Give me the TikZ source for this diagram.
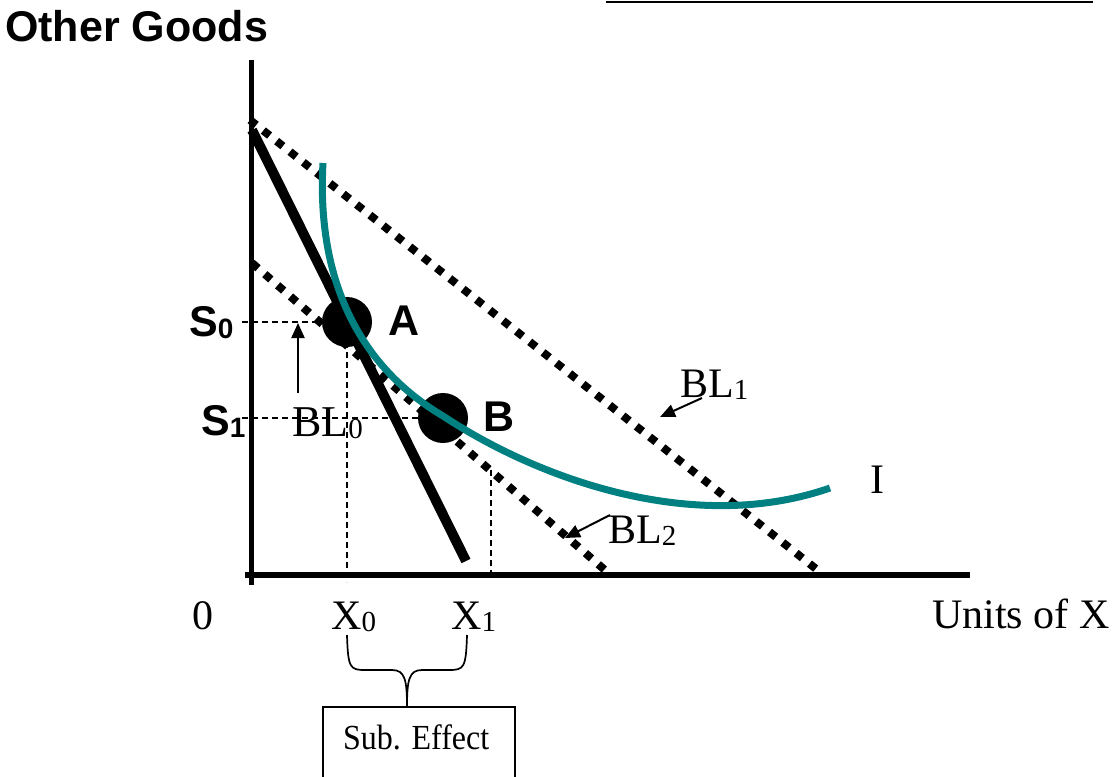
\documentclass[tikz,border=0pt]{standalone}
\usepackage{fontspec}
\setmainfont{Liberation Serif}
\newfontfamily\lsans{Liberation Sans}
\usetikzlibrary{arrows.meta}
\definecolor{icurve}{RGB}{0,128,128}
\newcommand\sbs[1]{\raisebox{-2pt}{\fontsize{29}{29}\selectfont #1}}
\newcommand\sbsb[1]{\raisebox{-2pt}{\fontsize{28}{28}\selectfont\bfseries #1}}
\begin{document}
\begin{tikzpicture}[x=1pt,y=-1pt,
  ser/.style={font=\fontsize{42}{42}\selectfont, inner sep=0pt, anchor=base west},
  bsans/.style={font=\lsans\bfseries\fontsize{43}{43}\selectfont, inner sep=0pt, anchor=base west},
  blline/.style={line width=8pt, dash pattern=on 8pt off 9pt},
  guide/.style={line width=1.3pt, dash pattern=on 6pt off 4pt},
  ptr/.style={line width=2pt, -{Triangle[length=15pt,width=13pt]}},
  dotpt/.style={circle, fill=black, minimum size=50pt, inner sep=0pt},
  thin/.style={line width=1.7pt}]
\useasboundingbox (0,0) rectangle (1112,777);
% top line
\draw[line width=2pt] (606,1.5) -- (1093,1.5);
% axes
\coordinate (ytop) at (251,60);
\coordinate (ybot) at (251,585);
\coordinate (xl) at (245,575);
\coordinate (xr) at (970,575);
% budget lines
\coordinate (bl1a) at (250,120);
\coordinate (bl1b) at (820,572);
\coordinate (bl2a) at (252,263);
\coordinate (bl2b) at (606,571);
\coordinate (bl0a) at (252,130);
\coordinate (bl0b) at (466,561);
\draw[blline] (bl1a) -- (bl1b);
\draw[blline] (bl2a) -- (bl2b);
\draw[line width=10pt] (bl0a) -- (bl0b);
% points
\node[dotpt] (A) at (347,322) {};
\node[dotpt] (B) at (443,418) {};
% guides
\coordinate (s0l) at (242,322);
\coordinate (s1l) at (242,418);
\coordinate (x0b) at (347,582);
\coordinate (x1t) at (491,470);
\coordinate (x1b) at (491,575);
\draw[guide] (s0l) -- (A.center);
\draw[guide] (s1l) -- (B.center);
\draw[guide] (A.center) -- (x0b);
\draw[guide] (x1t) -- (x1b);
\draw[line width=5pt] (ytop) -- (ybot);
\draw[line width=6pt] (xl) -- (xr);
% indifference curve
\coordinate (i0) at (323,163);
\coordinate (i1) at (443,416);
\coordinate (i2) at (830,488);
\draw[icurve, line width=7pt] (i0) .. controls (317,270) and (352,362) .. (i1)
  .. controls (540,480) and (695,535) .. (i2);
% labels
\node[bsans] (OG) at (5,41) {Other Goods};
\node[bsans] (S0) at (189,336) {S\sbsb{0}};
\node[bsans] (S1) at (201,435) {S\sbsb{1}};
\node[bsans] (LA) at (388,335) {A};
\node[bsans] (LB) at (483,431) {B};
\node[ser, font=\fontsize{44}{44}\selectfont] (LBL0) at (292,436) {BL\sbs{0}};
\node[ser] (LBL1) at (680,397) {BL\sbs{1}};
\node[ser] (LBL2) at (608,543) {BL\sbs{2}};
\node[ser] (LI) at (870,493) {I};
\node[ser] (L0) at (192,629) {0};
\node[ser] (X0) at (331,629) {X\sbs{0}};
\node[ser] (X1) at (451,629) {X\sbs{1}};
\node[ser] (Units) at (932,628) {Units of X};
% pointer arrows
\coordinate (p0s) at (298,393);
\coordinate (p0e) at (298,323);
\coordinate (p1s) at (702,398);
\coordinate (p1e) at (660,417);
\coordinate (p2s) at (610,515);
\coordinate (p2e) at (565,538);
\draw[ptr] (p0s) -- (p0e);
\draw[ptr] (p1s) -- (p1e);
\draw[ptr] (p2s) -- (p2e);
% brace
\coordinate (bL) at (347,635);
\coordinate (bR) at (467,635);
\coordinate (bM) at (407,707);
\draw[thin] (bL) .. controls (348,668) and (350,670) .. (365,670) -- (392,670) .. controls (405,670) and (407,680) .. (bM);
\draw[thin] (bR) .. controls (466,668) and (464,670) .. (449,670) -- (422,670) .. controls (409,670) and (407,680) .. (bM);
% box
\draw[line width=2pt] (323,777) -- (323,707) -- (515,707) -- (515,777);
\node[font=\fontsize{32}{32}\selectfont, inner sep=0pt, anchor=base west, yscale=1.1] (SE) at (343,749) {Sub. Effect};
\end{tikzpicture}
\end{document}
